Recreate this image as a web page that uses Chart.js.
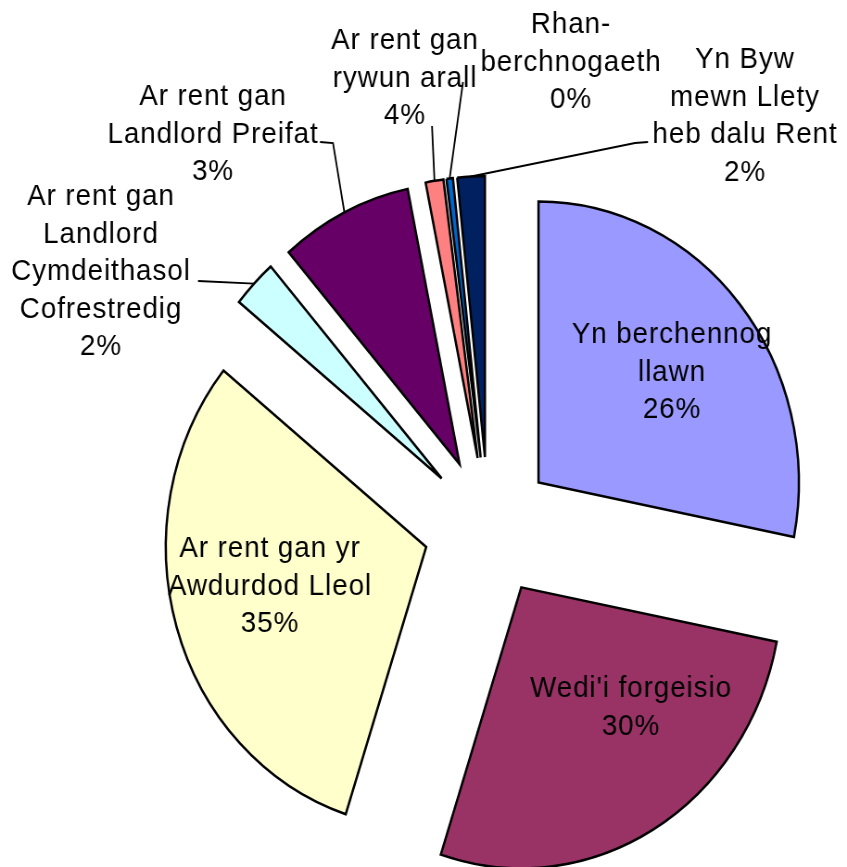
<!DOCTYPE html>
<html>
<head>
<meta charset="utf-8">
<script src="https://cdn.jsdelivr.net/npm/chart.js@4.4.1/dist/chart.umd.min.js"></script>
<style>
  html, body { margin: 0; padding: 0; background: #fff; overflow: hidden; }
  /* the source picture is squeezed sideways, so draw wide and scale back */
  #wrap { position: absolute; left: 0; top: 0; width: 914px; height: 867px; transform: scaleX(0.9267); transform-origin: 0 0; }
</style>
</head>
<body>
<div id="wrap"><canvas id="pieChart"></canvas></div>
<script>
const categories = [
    ['Yn berchennog', 'llawn'],
    ["Wedi'i forgeisio"],
    ['Ar rent gan yr', 'Awdurdod Lleol'],
    ['Ar rent gan', 'Landlord', 'Cymdeithasol', 'Cofrestredig'],
    ['Ar rent gan', 'Landlord Preifat'],
    ['Ar rent gan', 'rywun arall'],
    ['Rhan-', 'berchnogaeth'],
    ['Yn Byw', 'mewn Llety', 'heb dalu Rent']
];
// slice sizes as drawn (share of the circle)
const shares = [28.1, 26.9, 30.8, 2.8, 8.2, 1.1, 0.4, 1.7];
// percentages as printed on the labels
const percentLabels = ['26%', '30%', '35%', '2%', '3%', '4%', '0%', '2%'];
const sliceColours = ['#9999FF', '#993366', '#FFFFCC', '#CCFFFF', '#660066', '#FF8080', '#0066CC', '#002060'];

const SQUEEZE = 0.9267;
const EXPLODE = 70;
const LINE_H = 37.5;

// label placement in page pixels: centre x, first baseline, leader start points
const labelSpots = [
    { x: 672, y: 343 },
    { x: 631, y: 697 },
    { x: 270, y: 557 },
    { x: 101, y: 205, leader: [[198, 281]] },
    { x: 213, y: 105, leader: [[320, 142], [333, 143]] },
    { x: 405, y: 49, leader: [[432, 126]] },
    { x: 571, y: 33, leader: [[463, 82]] },
    { x: 745, y: 68, leader: [[648, 142], [635, 143]] }
];

// every slice pulled out along its bisector (Chart.js offset shrinks thin slices, so translate instead)
const explodePlugin = {
    id: 'explode',
    beforeDatasetDraw(chart, args) {
        const ctx = chart.ctx;
        args.meta.data.forEach(arc => {
            const mid = (arc.startAngle + arc.endAngle) / 2;
            ctx.save();
            ctx.translate(Math.cos(mid) * EXPLODE, Math.sin(mid) * EXPLODE);
            arc.draw(ctx);
            ctx.restore();
        });
        return false;
    }
};

const labelPlugin = {
    id: 'sliceLabels',
    afterDatasetsDraw(chart) {
        const ctx = chart.ctx;
        const arcs = chart.getDatasetMeta(0).data;
        ctx.save();
        ctx.font = '30px "Liberation Sans", Arial, sans-serif';
        ctx.letterSpacing = '1px';
        ctx.fillStyle = '#000';
        ctx.strokeStyle = '#000';
        ctx.lineWidth = 1.8;
        ctx.textAlign = 'center';
        ctx.textBaseline = 'alphabetic';
        arcs.forEach((arc, i) => {
            const spot = labelSpots[i];
            const lines = categories[i].concat(percentLabels[i]);
            lines.forEach((t, k) => ctx.fillText(t, spot.x / SQUEEZE, spot.y + k * LINE_H));
            if (spot.leader) {
                const mid = (arc.startAngle + arc.endAngle) / 2;
                const r = arc.outerRadius + EXPLODE;
                ctx.beginPath();
                spot.leader.forEach(([px, py], k) => {
                    if (k === 0) ctx.moveTo(px / SQUEEZE, py);
                    else ctx.lineTo(px / SQUEEZE, py);
                });
                ctx.lineTo(arc.x + Math.cos(mid) * r, arc.y + Math.sin(mid) * r);
                ctx.stroke();
            }
        });
        ctx.restore();
    }
};

new Chart(document.getElementById('pieChart'), {
    type: 'pie',
    data: {
        labels: categories,
        datasets: [{
            data: shares,
            backgroundColor: sliceColours,
            borderColor: '#000',
            borderWidth: 2.5,
            borderJoinStyle: 'miter',
            radius: 281
        }]
    },
    options: {
        responsive: true,
        maintainAspectRatio: false,
        animation: false,
        layout: { padding: { left: 140, top: 187, right: 0, bottom: 0 } },
        plugins: {
            legend: { display: false },
            tooltip: { enabled: false }
        }
    },
    plugins: [explodePlugin, labelPlugin]
});
</script>
</body>
</html>
